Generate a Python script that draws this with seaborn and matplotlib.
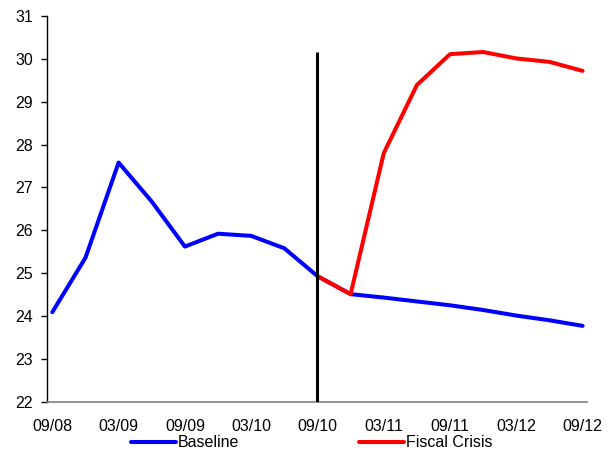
import matplotlib
matplotlib.use("Agg")
import matplotlib.pyplot as plt
import seaborn as sns
import pandas as pd

# Quarterly periods, 09/08 to 09/12
periods = ["09/08", "12/08", "03/09", "06/09", "09/09", "12/09", "03/10", "06/10",
           "09/10", "12/10", "03/11", "06/11", "09/11", "12/11", "03/12", "06/12", "09/12"]
tick_labels = ["09/08", "03/09", "09/09", "03/10", "09/10", "03/11", "09/11", "03/12", "09/12"]

baseline = [24.09, 25.36, 27.58, 26.67, 25.62, 25.92, 25.87, 25.58,
            24.93, 24.51, 24.43, 24.34, 24.25, 24.14, 24.01, 23.90, 23.77]
# Fiscal crisis scenario starts at 09/10
crisis_periods = periods[8:]
crisis = [24.93, 24.51, 27.80, 29.39, 30.11, 30.16, 30.01, 29.93, 29.72]

split_period = "09/10"
split_top = 30.16

sns.set_theme(style="white")
plt.rcParams["font.family"] = ["Liberation Sans", "DejaVu Sans"]

df = pd.concat([
    pd.DataFrame({"period": periods, "value": baseline, "series": "Baseline"}),
    pd.DataFrame({"period": crisis_periods, "value": crisis, "series": "Fiscal Crisis"}),
])
df["pos"] = df["period"].map({p: i for i, p in enumerate(periods)})

fig = plt.figure(figsize=(6.08, 4.55), dpi=100)
ax = fig.add_axes([0.0768, 0.1171, 0.888, 0.8477])

sns.lineplot(data=df, x="pos", y="value", hue="series",
             palette={"Baseline": "#0000ff", "Fiscal Crisis": "#ff0000"},
             linewidth=2.9, ax=ax, legend=True, sort=False)

split_pos = periods.index(split_period)
ax.vlines(split_pos, 22, split_top, color="black", linewidth=2.2, zorder=5)

ax.set_ylim(22, 31)
ax.set_yticks(range(22, 32))
ax.set_xlim(-0.17, 16.12)
ax.set_xticks([periods.index(t) for t in tick_labels])
ax.set_xticklabels(tick_labels)
ax.set_xlabel("")
ax.set_ylabel("")

for s in ["top", "right"]:
    ax.spines[s].set_visible(False)
ax.spines["left"].set_color("black")
ax.spines["left"].set_linewidth(1.0)
ax.spines["bottom"].set_color("#808080")
ax.spines["bottom"].set_linewidth(1.2)

ax.tick_params(axis="y", direction="out", length=4.5, width=1, color="black",
               labelsize=11.5, pad=5.5, left=True, labelcolor="black")
ax.tick_params(axis="x", length=0, labelsize=11.5, pad=12.5, labelcolor="black")

handles, labels = ax.get_legend_handles_labels()
leg = ax.legend(handles, labels, loc="center", bbox_to_anchor=(312 / 608, 12.3 / 455),
                bbox_transform=fig.transFigure, ncol=2, frameon=False,
                fontsize=11.5, handlelength=2.8, handletextpad=0.15,
                columnspacing=7.5, borderpad=0)
for t in leg.get_texts():
    t.set_color("black")

fig.savefig("out.png", dpi=100)
